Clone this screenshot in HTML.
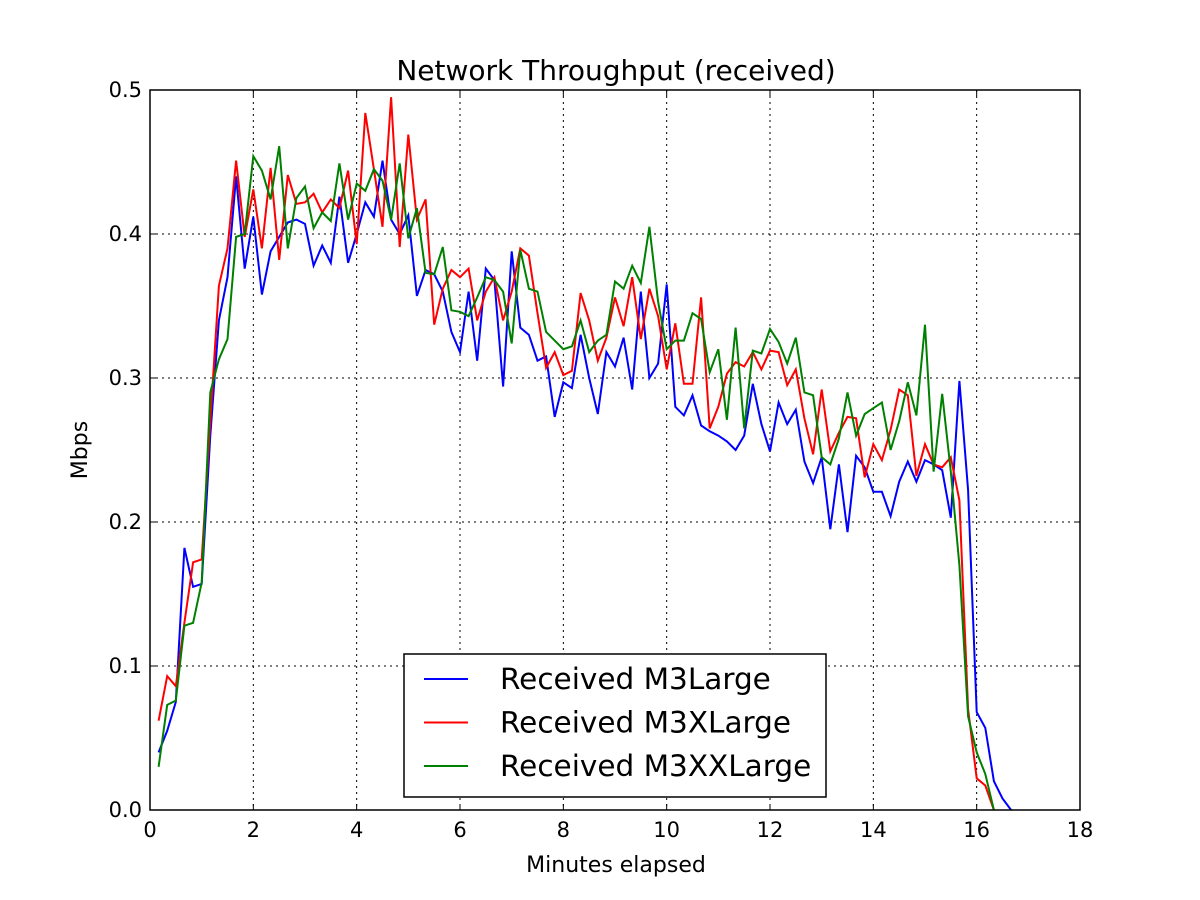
<!DOCTYPE html>
<html><head><meta charset="utf-8"><style>body{margin:0;background:#fff}svg{display:block}text{font-family:"DejaVu Sans","Liberation Sans",sans-serif}</style></head>
<body>
<svg id="chart" width="1200" height="900" xmlns="http://www.w3.org/2000/svg">
<rect width="1200" height="900" fill="#fff"/>
<g id="grid"></g><g id="series"></g><g id="axes"></g>
</svg>
<script>
const xTicks=[0,2,4,6,8,10,12,14,16,18];
const yTicks=[0.0,0.1,0.2,0.3,0.4,0.5];
const seriesNames=["Received M3Large","Received M3XLarge","Received M3XXLarge"];
const seriesColors=["#0000ff","#ff0000","#008000"];
const blue=[0.04,0.055,0.075,0.182,0.155,0.157,0.26,0.34,0.37,0.44,0.376,0.412,0.358,0.388,0.398,0.408,0.41,0.407,0.378,0.392,0.38,0.426,0.38,0.4,0.422,0.412,0.451,0.41,0.4,0.413,0.357,0.375,0.372,0.36,0.332,0.318,0.36,0.312,0.376,0.368,0.294,0.388,0.335,0.33,0.312,0.315,0.273,0.297,0.293,0.33,0.3,0.275,0.318,0.308,0.328,0.292,0.36,0.3,0.31,0.365,0.28,0.274,0.288,0.267,0.263,0.26,0.256,0.25,0.26,0.296,0.268,0.249,0.283,0.268,0.278,0.242,0.227,0.245,0.195,0.24,0.193,0.246,0.238,0.221,0.221,0.204,0.228,0.242,0.228,0.243,0.24,0.236,0.203,0.298,0.222,0.068,0.057,0.02,0.008,0.0];
const red=[0.062,0.093,0.086,0.13,0.172,0.174,0.27,0.364,0.39,0.451,0.398,0.431,0.39,0.446,0.382,0.441,0.421,0.422,0.428,0.415,0.424,0.418,0.444,0.393,0.484,0.445,0.405,0.495,0.391,0.469,0.41,0.424,0.337,0.362,0.375,0.37,0.376,0.34,0.36,0.37,0.34,0.36,0.39,0.385,0.345,0.307,0.318,0.302,0.305,0.359,0.34,0.312,0.328,0.356,0.336,0.37,0.327,0.362,0.343,0.306,0.338,0.296,0.296,0.356,0.265,0.28,0.303,0.311,0.308,0.318,0.306,0.319,0.318,0.295,0.306,0.272,0.247,0.292,0.249,0.262,0.273,0.272,0.231,0.254,0.243,0.264,0.292,0.288,0.232,0.254,0.24,0.238,0.245,0.215,0.07,0.022,0.017,0.0];
const green=[0.03,0.073,0.076,0.128,0.13,0.158,0.29,0.313,0.327,0.398,0.4,0.454,0.444,0.424,0.461,0.39,0.425,0.433,0.404,0.415,0.409,0.449,0.41,0.435,0.43,0.445,0.437,0.41,0.449,0.397,0.418,0.373,0.372,0.391,0.347,0.346,0.343,0.356,0.37,0.368,0.36,0.324,0.389,0.362,0.36,0.332,0.326,0.32,0.322,0.34,0.318,0.326,0.33,0.367,0.362,0.378,0.366,0.405,0.353,0.32,0.326,0.326,0.345,0.341,0.304,0.32,0.271,0.335,0.265,0.319,0.317,0.334,0.325,0.31,0.328,0.29,0.288,0.245,0.24,0.258,0.29,0.26,0.275,0.279,0.283,0.25,0.27,0.297,0.274,0.337,0.235,0.289,0.235,0.17,0.065,0.04,0.025,0.0];
const sampleStep=1/6;

const L=150,R=1080,T=90,B=810;
const xs=v=>L+(v/18)*(R-L);
const ys=v=>B-(v/0.5)*(B-T);
const NS="http://www.w3.org/2000/svg";
function mk(tag,attrs,parent){const e=document.createElementNS(NS,tag);for(const k in attrs)e.setAttribute(k,attrs[k]);parent.appendChild(e);return e;}
const grid=document.getElementById('grid'),axes=document.getElementById('axes'),ser=document.getElementById('series');

xTicks.forEach(t=>{const x=xs(t);
 if(t>0&&t<18){const g=mk('line',{x1:x,x2:x,y1:T,y2:B,stroke:'#000','stroke-dasharray':'2,4','stroke-width':1},grid);
 
 }
 mk('line',{x1:x,x2:x,y1:B,y2:B-6,stroke:'#000'},axes);mk('line',{x1:x,x2:x,y1:T,y2:T+6,stroke:'#000'},axes);
 const tx=mk('text',{x:x,y:B+27,'font-size':21,'text-anchor':'middle'},axes);tx.textContent=t;
 
 
});
yTicks.forEach(t=>{const y=ys(t);
 if(t>0&&t<0.5){const g=mk('line',{x1:L,x2:R,y1:y,y2:y,stroke:'#000','stroke-dasharray':'2,4','stroke-width':1},grid);
 
 }
 mk('line',{x1:L,x2:L+6,y1:y,y2:y,stroke:'#000'},axes);mk('line',{x1:R,x2:R-6,y1:y,y2:y,stroke:'#000'},axes);
 const tx=mk('text',{x:L-8,y:y+7,'font-size':21,'text-anchor':'end'},axes);tx.textContent=t.toFixed(1);
 
 
});
[blue,red,green].forEach((d,i)=>{
 const pts=d.map((v,k)=>xs((k+1)*sampleStep).toFixed(1)+','+ys(v).toFixed(1)).join(' ');
 const p=mk('polyline',{points:pts,fill:'none',stroke:seriesColors[i],'stroke-width':2,'stroke-linejoin':'miter'},ser);
 
 
});
const frame=mk('rect',{x:L,y:T,width:R-L,height:B-T,fill:'none',stroke:'#000','stroke-width':1.5},axes);


const title=mk('text',{x:616,y:80,'font-size':28,'text-anchor':'middle'},axes);title.textContent='Network Throughput (received)';


const xl=mk('text',{x:616,y:872,'font-size':22,'text-anchor':'middle'},axes);xl.textContent='Minutes elapsed';


const yl=mk('text',{x:0,y:0,'font-size':22,'text-anchor':'middle',transform:'translate(87,450) rotate(-90)'},axes);yl.textContent='Mbps';


const lg=mk('g',{},axes);


mk('rect',{x:404,y:654,width:422,height:143,fill:'#fff',stroke:'#000','stroke-width':1.5},lg);
seriesNames.forEach((n,i)=>{const y=679+i*43.5;
 const e=mk('g',{},lg);
 
 
 mk('line',{x1:424,x2:468,y1:y,y2:y,stroke:seriesColors[i],'stroke-width':2},e);
 const t=mk('text',{x:500,y:y+10,'font-size':29.5},e);t.textContent=n;
});
</script>
</body></html>
